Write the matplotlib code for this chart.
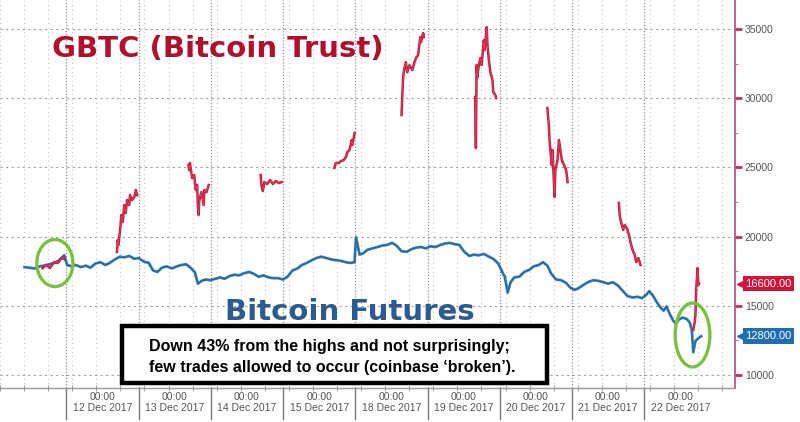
import numpy as np
import matplotlib
matplotlib.use("Agg")
import matplotlib.pyplot as plt
import matplotlib.transforms as mtransforms
from matplotlib.patches import Ellipse, Rectangle

NaN = float("nan")

# ---------------- data ----------------
day_labels = ["12 Dec 2017", "13 Dec 2017", "14 Dec 2017", "15 Dec 2017",
              "18 Dec 2017", "19 Dec 2017", "20 Dec 2017", "21 Dec 2017",
              "22 Dec 2017"]
y_ticks = [10000, 15000, 20000, 25000, 30000, 35000]

# x in trading-day units (0 = start of 12 Dec session)
futures_x = [-0.58, -0.51, -0.44, -0.37, -0.31, -0.24, -0.17, -0.11, -0.07, -0.03,
             0.01, 0.07, 0.13, 0.2, 0.27, 0.33, 0.4, 0.47, 0.54, 0.6,
             0.67, 0.74, 0.8, 0.87, 0.94, 1.0, 1.07, 1.14, 1.2, 1.26,
             1.32, 1.39, 1.46, 1.53, 1.59, 1.66, 1.73, 1.78, 1.82, 1.87,
             1.93, 1.99, 2.06, 2.13, 2.19, 2.26, 2.33, 2.39, 2.46, 2.53,
             2.6, 2.66, 2.73, 2.8, 2.86, 2.93, 3.0, 3.06, 3.13, 3.2,
             3.26, 3.33, 3.4, 3.46, 3.53, 3.6, 3.67, 3.73, 3.8, 3.87,
             3.93, 3.99, 4.01, 4.06, 4.11, 4.17, 4.24, 4.31, 4.37, 4.44,
             4.51, 4.57, 4.64, 4.71, 4.78, 4.84, 4.91, 4.98, 5.04, 5.11,
             5.18, 5.24, 5.31, 5.38, 5.44, 5.51, 5.58, 5.64, 5.71, 5.78,
             5.85, 5.91, 5.98, 6.04, 6.07, 6.11, 6.15, 6.2, 6.27, 6.34,
             6.41, 6.47, 6.54, 6.6, 6.66, 6.71, 6.78, 6.85, 6.92, 6.98,
             7.04, 7.1, 7.17, 7.24, 7.3, 7.37, 7.44, 7.5, 7.57, 7.64,
             7.71, 7.77, 7.84, 7.91, 7.97, 8.03, 8.07, 8.12, 8.17, 8.23,
             8.27, 8.31, 8.35, 8.4, 8.44, 8.48, 8.53, 8.59, 8.63, 8.66,
             8.68, 8.71, 8.74, 8.76, 8.79]
futures_y = [17800, 17750, 17700, 17850, 17900, 18000, 18100, 18250, 18450, 18650,
             17950, 17850, 17950, 17800, 17900, 17750, 18050, 18150, 17950, 18100,
             18350, 18550, 18500, 18600, 18400, 18450, 18200, 18100, 17550, 17450,
             17750, 17850, 17700, 17850, 17950, 18000, 17700, 17400, 16600, 16800,
             16900, 16850, 16950, 17050, 16950, 17150, 17250, 17200, 17350, 17450,
             17300, 17100, 17200, 17050, 17000, 17000, 16900, 17100, 17550, 17700,
             17950, 18100, 18300, 18450, 18550, 18450, 18350, 18300, 18250, 18150,
             18100, 18150, 19950, 18700, 18800, 19050, 19150, 19250, 19350, 19400,
             19550, 19350, 18950, 18900, 19100, 19200, 19250, 19150, 19300, 19250,
             19400, 19500, 19550, 19450, 19400, 18900, 18600, 18700, 18650, 18750,
             18550, 18400, 18050, 17400, 17100, 15950, 16700, 17050, 17100, 17450,
             17600, 17850, 17950, 18150, 17900, 17350, 16900, 16850, 16650, 16300,
             16150, 16300, 16550, 16750, 16850, 16800, 16700, 16600, 16700, 16450,
             16050, 15700, 15600, 15650, 15550, 15800, 16050, 15750, 15300, 14850,
             14650, 14950, 14450, 13950, 13700, 14000, 14150, 14050, 13800, 13250,
             11650, 12450, 12600, 12700, 12800]

gbtc_x = [-0.33, -0.28, -0.23, -0.17, -0.12, -0.07, -0.03, NaN,
          0.70, 0.71, 0.72, 0.75, 0.76, 0.78, 0.80, 0.82, 0.84, 0.87, 0.88, 0.91, 0.94, 0.96, 0.98, NaN,
          1.69, 1.70, 1.71, 1.74, 1.77, 1.79, 1.81, 1.82, 1.83, 1.84, 1.87, 1.90, 1.91, 1.94, 1.97, NaN,
          2.69, 2.70, 2.72, 2.74, 2.78, 2.82, 2.86, 2.90, 2.94, 2.98, NaN,
          3.71, 3.73, 3.77, 3.80, 3.84, 3.87, 3.89, 3.92, 3.95, 3.96, 3.99, NaN,
          4.64, 4.66, 4.67, 4.70, 4.72, 4.75, 4.79, 4.82, 4.84, 4.87, 4.90, 4.91, 4.94, 4.95, NaN,
          5.66, 5.67, 5.68, 5.69, 5.70, 5.73, 5.75, 5.78, 5.79, 5.82, 5.83, 5.85, 5.87, 5.90, 5.91, 5.94, 5.95, NaN,
          6.66, 6.68, 6.69, 6.72, 6.73, 6.76, 6.77, 6.80, 6.82, 6.84, 6.86, 6.89, 6.92, 6.94, NaN,
          7.65, 7.66, 7.68, 7.71, 7.73, 7.76, 7.79, 7.81, 7.84, 7.87, 7.89, 7.92, 7.95, NaN,
          8.68, 8.70, 8.71, 8.72, 8.74, 8.75, 8.76]
gbtc_y = [17730, 17950, 17730, 18160, 18090, 18450, 18380, NaN,
          18890, 19750, 19400, 20840, 21560, 21050, 22280, 21700, 22640, 22280, 23000, 22640, 22860, 23370, 23000, NaN,
          25170, 24800, 25320, 24230, 24450, 23370, 23730, 22280, 21560, 22640, 23220, 22280, 23370, 23220, 23730, NaN,
          24450, 23730, 23290, 23940, 23800, 24090, 23800, 24020, 23870, 23940, NaN,
          24960, 25320, 25320, 25460, 25530, 25750, 26110, 26260, 26980, 26620, 27480, NaN,
          28790, 31310, 31890, 32610, 31890, 32390, 32040, 32610, 32900, 33120, 34420, 34060, 34710, 34420, NaN,
          30090, 26400, 32400, 31500, 32040, 32900, 32400, 34200, 33480, 35140, 33840, 32750, 31890, 31310, 30450, 30230, 30010, NaN,
          29290, 28060, 26980, 25170, 26260, 22860, 24810, 25530, 26980, 26260, 25530, 25170, 24810, 23940, NaN,
          22430, 21560, 21050, 20480, 20840, 20620, 20120, 19610, 19030, 18670, 18160, 18450, 17950, NaN,
          13250, 13830, 14340, 16140, 17730, 16500, 16600]

gbtc_last = 16600
futures_last = 12800

# ---------------- styling ----------------
RED = "#C8183C"
BLUE = "#3A7DB5"
SPINE = "#A85078"
TXT = "#555555"

fig = plt.figure(figsize=(8, 4.22), dpi=100)
ax = fig.add_axes([0.0, 34 / 422, 735 / 800, 388 / 422])
ax.set_xlim(-0.575, 9.258)
ax.set_ylim(9060, 37100)

for s in ("left", "top"):
    ax.spines[s].set_visible(False)
ax.spines["right"].set_color(SPINE)
ax.spines["right"].set_linewidth(1.2)
ax.spines["bottom"].set_color("#999999")
ax.spines["bottom"].set_linewidth(1.0)

# y axis on the right
ax.yaxis.tick_right()
ax.set_yticks(y_ticks)
ax.set_yticklabels([str(v) for v in y_ticks])
ax.set_yticks(np.arange(12500, 37500, 5000), minor=True)
ax.tick_params(axis="y", which="major", direction="out", length=5, width=2,
               color="#C83060", labelsize=7.5, labelcolor=TXT, pad=2)
ax.tick_params(axis="y", which="minor", direction="out", length=2, width=0.8,
               color="#C08090")
for lab in ax.get_yticklabels():
    lab.set_fontfamily("Liberation Sans")

# x axis: labels in the middle of each session
n_days = len(day_labels)
mids = np.arange(n_days) + 0.5
ax.set_xticks(mids)
ax.set_xticklabels(["00:00\n" + d for d in day_labels], fontsize=7.5,
                   color=TXT, linespacing=1.15, fontfamily="Liberation Sans")
ax.tick_params(axis="x", which="major", length=0, pad=3)
minor_x = np.arange(-1 + 0.08, 9.3, 1 / 3)
ax.set_xticks(minor_x, minor=True)
ax.tick_params(axis="x", which="minor", direction="inout", length=4,
               width=0.7, color="#999999")

# grid
for v in y_ticks:
    ax.axhline(v, color="#A0A0A0", lw=0.8, ls=(0, (2, 3)), zorder=0)
for xv in minor_x:
    ax.axvline(xv, color="#C4C4C4", lw=0.8, ls=(0, (1, 3)), zorder=0)
trans_x = mtransforms.blended_transform_factory(ax.transData, ax.transAxes)
for k in range(n_days):
    ax.axvline(k, color="#8C8C8C", lw=0.9, ls=(0, (1, 1.5)), zorder=0)
    ax.plot([k, k], [0, -0.08], color="#777777", lw=1.0,
            transform=trans_x, clip_on=False)

# series
ax.plot(futures_x, futures_y, color=BLUE, lw=2.0, zorder=3)
ax.plot(futures_x, futures_y, color="#2A5F8C", lw=0.7, zorder=3, alpha=0.8)
ax.plot(gbtc_x, gbtc_y, color=RED, lw=1.8, zorder=4)
ax.plot(gbtc_x, gbtc_y, color="#E05A7A", lw=0.5, zorder=4, alpha=0.7)

# last value tags
trans_y = mtransforms.blended_transform_factory(ax.transAxes, ax.transData)
for val, col in [(gbtc_last, "#D2143A"), (futures_last, "#1F6DB3")]:
    ax.text(1.014, val, f"{val:.2f}", transform=trans_y, color="white",
            fontsize=8, va="center", ha="left", fontfamily="Liberation Sans",
            bbox=dict(boxstyle="square,pad=0.25", fc=col, ec="none"),
            clip_on=False, zorder=12)
    ax.plot([1.008], [val], marker="<", ms=5.5, color=col, mec=col,
            transform=trans_y, clip_on=False, zorder=11)

# green circles
ax.add_patch(Ellipse((-0.16, 18090), 0.50, 3400, fill=False,
                     ec="#7CC043", lw=2.4, zorder=6))
ax.add_patch(Ellipse((8.67, 12890), 0.48, 4620, fill=False,
                     ec="#7CC043", lw=2.4, zorder=6))

# titles
fig.text(52 / 800, 1 - 57 / 422, "GBTC (Bitcoin Trust)", fontsize=21,
         fontweight="bold", color="#B0102E", ha="left", va="baseline",
         fontfamily="DejaVu Sans")
fig.text(225 / 800, 1 - 320 / 422, "Bitcoin Futures", fontsize=21,
         fontweight="bold", color="#2B5B91", ha="left", va="baseline",
         fontfamily="DejaVu Sans")

# annotation box
box = Rectangle((122 / 800, 1 - 383 / 422), 425 / 800, 57 / 422,
                transform=fig.transFigure, fc="white", ec="black", lw=3.2,
                zorder=20)
fig.patches.append(box)
fig.text(149 / 800, 1 - 351 / 422,
         "Down 43% from the highs and not surprisingly;",
         fontsize=11.5, fontweight="bold", color="black", ha="left",
         va="baseline", fontfamily="Liberation Sans", zorder=21)
fig.text(149 / 800, 1 - 372 / 422,
         "few trades allowed to occur (coinbase \u2018broken\u2019).",
         fontsize=11.5, fontweight="bold", color="black", ha="left",
         va="baseline", fontfamily="Liberation Sans", zorder=21)

fig.savefig("out.png", dpi=100)
